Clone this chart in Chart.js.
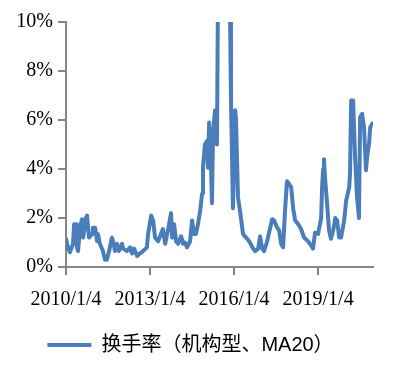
<!DOCTYPE html>
<html>
<head>
<meta charset="utf-8">
<script src="https://cdn.jsdelivr.net/npm/chart.js@4"></script>
<style>
  body { margin: 0; background: #fff; }
</style>
</head>
<body>
<canvas id="myChart" width="396" height="370"></canvas>
<script>
// dates as decimal years, turnover in %
var years = [
    2010.00, 2010.07, 2010.14, 2010.25, 2010.29, 2010.36, 2010.39, 2010.43, 2010.50, 2010.57,
    2010.61, 2010.71, 2010.75, 2010.82, 2010.93, 2010.96, 2011.04, 2011.11, 2011.14, 2011.21,
    2011.32, 2011.39, 2011.46, 2011.54, 2011.64, 2011.68, 2011.75, 2011.82, 2011.89, 2012.00,
    2012.04, 2012.18, 2012.29, 2012.36, 2012.43, 2012.54, 2012.64, 2012.75, 2012.89, 2012.93,
    2013.04, 2013.11, 2013.18, 2013.29, 2013.39, 2013.46, 2013.54, 2013.64, 2013.75, 2013.79,
    2013.86, 2013.93, 2014.00, 2014.11, 2014.18, 2014.25, 2014.32, 2014.43, 2014.50, 2014.57,
    2014.64, 2014.71, 2014.79, 2014.86, 2014.89, 2014.96, 2015.04, 2015.07, 2015.11, 2015.18,
    2015.21, 2015.25, 2015.32, 2015.39, 2015.43, 2015.54, 2015.68, 2015.82, 2015.86,
    2015.89, 2015.96, 2016.04, 2016.07, 2016.14, 2016.21, 2016.32, 2016.43, 2016.54, 2016.68,
    2016.75, 2016.86, 2016.93, 2017.00, 2017.07, 2017.18, 2017.25, 2017.36, 2017.43, 2017.54,
    2017.61, 2017.68, 2017.75, 2017.82, 2017.89, 2017.96, 2018.04, 2018.11, 2018.18, 2018.29,
    2018.39, 2018.50, 2018.64, 2018.71, 2018.82, 2018.89, 2019.00, 2019.11, 2019.14, 2019.18,
    2019.21, 2019.25, 2019.32, 2019.39, 2019.46, 2019.54, 2019.61, 2019.68, 2019.75, 2019.82,
    2019.93, 2020.00, 2020.11, 2020.14, 2020.18, 2020.25, 2020.32, 2020.39, 2020.46, 2020.50,
    2020.57, 2020.64, 2020.71, 2020.75, 2020.82, 2020.86, 2020.93
];
var turnover = [
    1.15, 0.8, 0.6, 0.95, 1.75, 1.75, 0.8, 0.65, 1.6, 1.95,
    1.2, 2.0, 2.1, 1.2, 1.35, 1.6, 1.6, 1.05, 1.35, 0.95,
    0.65, 0.3, 0.3, 0.65, 1.2, 1.05, 0.65, 0.95, 0.65, 0.95,
    0.75, 0.65, 0.8, 0.55, 0.75, 0.45, 0.55, 0.65, 0.8, 1.35,
    2.1, 1.9, 1.2, 1.05, 1.35, 1.55, 0.95, 1.5, 2.2, 1.2,
    1.75, 1.05, 0.95, 1.25, 0.95, 1.0, 0.8, 1.05, 1.9, 1.35,
    1.35, 1.75, 2.3, 3.0, 4.05, 5.0, 5.15, 4.05, 5.9, 4.0,
    2.6, 5.45, 6.4, 5.0, 12.0, 14.0, 14.0, 13.0, 10.0,
    6.8, 2.4, 6.4, 6.0, 2.85, 2.3, 1.35, 1.2, 1.05, 0.75,
    0.65, 0.75, 1.25, 0.75, 0.65, 1.05, 1.4, 1.95, 1.9, 1.6,
    1.5, 0.95, 0.8, 2.3, 3.5, 3.4, 3.25, 2.4, 1.9, 1.75,
    1.55, 1.2, 1.05, 0.95, 0.75, 1.4, 1.35, 2.0, 3.2, 4.0,
    4.4, 3.6, 2.6, 1.5, 1.15, 1.5, 2.0, 1.9, 1.2, 1.2,
    1.9, 2.7, 3.25, 3.8, 6.8, 6.8, 4.5, 2.85, 2.0, 6.1,
    6.25, 5.7, 3.95, 4.5, 5.05, 5.7, 5.85
];
var xTickYears = [2010, 2013, 2016, 2019];
var xTickLabels = ["2010/1/4", "2013/1/4", "2016/1/4", "2019/1/4"];
var yTicks = [0, 2, 4, 6, 8, 10];

var points = years.map(function (y, i) { return {x: y, y: turnover[i]}; });
var axisColor = "#868686";
var tickFont = {family: "'Liberation Serif', 'Times New Roman', serif", size: 20};

var ctx = document.getElementById("myChart").getContext("2d");
var lineChart = new Chart(ctx, {
    type: "line",
    data: {
        datasets: [
            {
                label: "换手率（机构型、MA20）",
                data: points,
                borderColor: "#4A7EBB",
                backgroundColor: "#4A7EBB",
                borderWidth: 4,
                borderJoinStyle: "round",
                borderCapStyle: "round",
                pointRadius: 0,
                tension: 0
            }
        ]
    },
    options: {
        responsive: false,
        animation: false,
        layout: {padding: {top: 22, right: 23, left: 8, bottom: 5}},
        plugins: {
            tooltip: {enabled: false},
            legend: {
                position: "bottom",
                labels: {
                    color: "#000",
                    font: {family: "'Liberation Sans', 'Noto Sans CJK SC', sans-serif", size: 20},
                    usePointStyle: true,
                    pointStyle: "line",
                    pointStyleWidth: 44,
                    padding: 10
                }
            }
        },
        scales: {
            x: {
                type: "linear",
                min: 2010,
                max: 2020.96,
                afterBuildTicks: function (axis) {
                    axis.ticks = xTickYears.map(function (v) { return {value: v}; });
                },
                ticks: {
                    color: "#000",
                    font: tickFont,
                    maxRotation: 0,
                    autoSkip: false,
                    padding: 13,
                    callback: function (v) { return xTickLabels[xTickYears.indexOf(v)]; }
                },
                grid: {drawOnChartArea: false, drawTicks: true, tickLength: 8, color: axisColor, lineWidth: 2},
                border: {color: axisColor, width: 2}
            },
            y: {
                min: 0,
                max: 10,
                afterBuildTicks: function (axis) {
                    axis.ticks = yTicks.map(function (v) { return {value: v}; });
                },
                afterFit: function (scale) { scale.width = 58; },
                ticks: {
                    color: "#000",
                    font: tickFont,
                    padding: 5,
                    callback: function (v) { return v + "%"; }
                },
                grid: {drawOnChartArea: false, drawTicks: true, tickLength: 8, color: axisColor, lineWidth: 2},
                border: {color: axisColor, width: 2}
            }
        }
    }
});
</script>
</body>
</html>
